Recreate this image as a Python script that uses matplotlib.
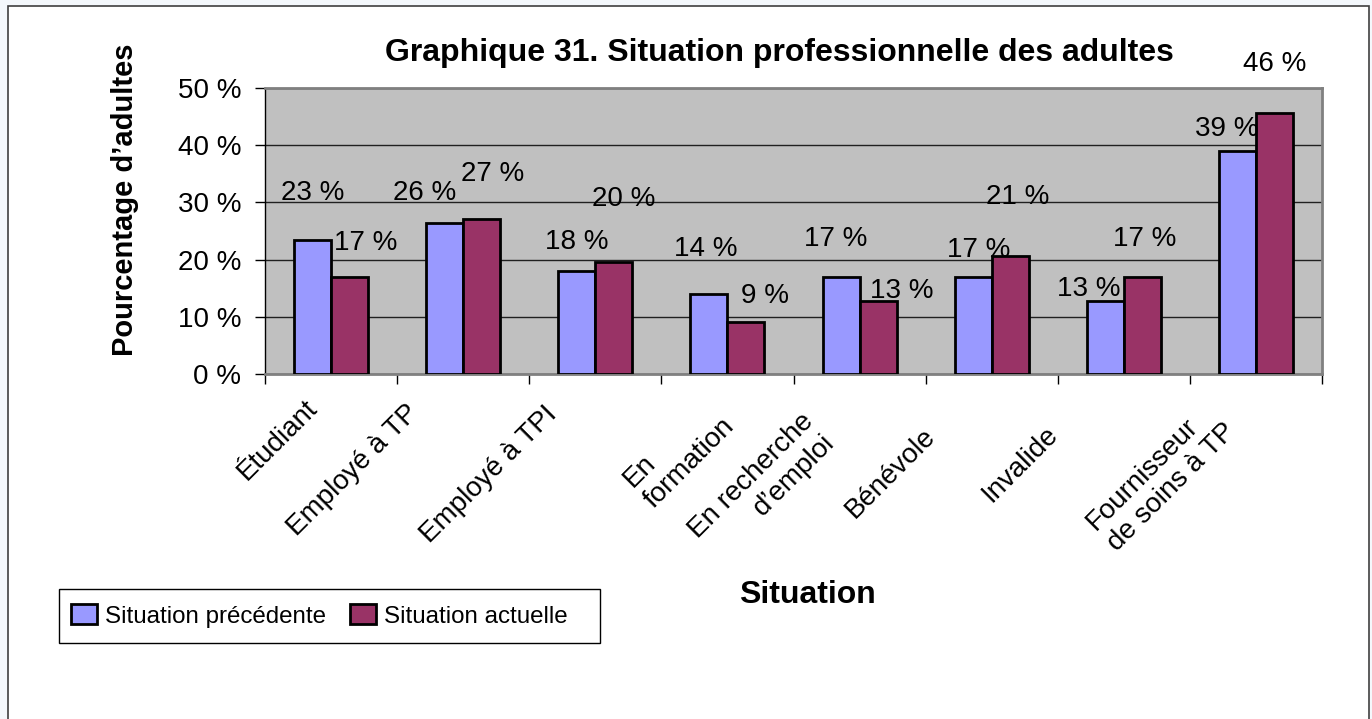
import matplotlib.pyplot as plt
import matplotlib.transforms as mtransforms
from matplotlib.patches import Rectangle, Patch
import numpy as np

plt.rcParams['font.family'] = ['Liberation Sans', 'DejaVu Sans']

# Données
categories = ["Étudiant", "Employé à TP", "Employé à TPI", "En\nformation",
              "En recherche\nd’emploi", "Bénévole", "Invalide",
              "Fournisseur\nde soins à TP"]
previous = [23.4, 26.4, 18.0, 14.0, 16.9, 16.9, 12.8, 39.0]
current = [16.9, 27.1, 19.5, 9.1, 12.8, 20.6, 16.9, 45.6]
y_ticks = [0, 10, 20, 30, 40, 50]

# Décalages des étiquettes (pixels), comme dans l'original d'Excel
prev_off = [(0, -47), (-20, -30), (0, -29), (-3, -45), (-5, -38), (5, -27),
            (-17, -12), (-11, -22)]
cur_off = [(16, -34), (11, -45), (10, -63), (19, -26), (24, -10), (8, -59),
           (2, -38), (0, -49)]
tick_off = [(-27, 21), (-58, 26), (-51, 27), (-27, 18), (-59, 34), (-69, 49),
            (-79, 47), (-55, 23)]
tick_align = ['left', 'left', 'left', 'left', 'right', 'left', 'left', 'left']

W, H = 1372, 719


def fx(px):
    return px / W


def fy(py):
    return 1 - py / H


fig = plt.figure(figsize=(W / 100, H / 100), dpi=100, facecolor='#F4F8FC')
# cadre blanc du graphique
fig.add_artist(Rectangle((fx(8), -0.1), fx(1369) - fx(8), 1.1 - 6 / H,
                         transform=fig.transFigure, facecolor='white',
                         edgecolor='#404040', linewidth=1.2, zorder=0))

ax = fig.add_axes([fx(265), fy(374), (1322 - 265) / W, (374 - 88) / H])
ax.set_facecolor('#C0C0C0')

x = np.arange(len(categories))
w = 0.28
ax.bar(x - w / 2, previous, w, color='#9999FF', edgecolor='black',
       linewidth=2, zorder=3)
ax.bar(x + w / 2, current, w, color='#993366', edgecolor='black',
       linewidth=2, zorder=3)

k = 0.72  # px -> points
for i in range(len(categories)):
    ax.annotate(f"{previous[i]:.0f} %", (x[i] - w / 2, previous[i]),
                xytext=(prev_off[i][0] * k, -prev_off[i][1] * k),
                textcoords='offset points', ha='center', va='center',
                fontsize=20, zorder=5)
    ax.annotate(f"{current[i]:.0f} %", (x[i] + w / 2, current[i]),
                xytext=(cur_off[i][0] * k, -cur_off[i][1] * k),
                textcoords='offset points', ha='center', va='center',
                fontsize=20, zorder=5)

ax.set_xlim(-0.5, len(categories) - 0.5)
ax.set_ylim(0, 50)
ax.set_yticks(y_ticks)
ax.set_yticklabels([f"{t} %" for t in y_ticks])
ax.tick_params(axis='y', length=7.2, width=1, pad=10, labelsize=20,
               direction='out', colors='black')
ax.yaxis.grid(True, color='#202020', linewidth=1)
ax.set_axisbelow(True)

ax.set_xticks(x)
ax.set_xticklabels([])
ax.tick_params(axis='x', which='major', length=0)
ax.set_xticks(np.arange(-0.5, len(categories), 1), minor=True)
ax.tick_params(axis='x', which='minor', length=7.2, width=1, color='black')

for s in ['top', 'right', 'bottom']:
    ax.spines[s].set_color('#808080')
    ax.spines[s].set_linewidth(2)
ax.spines['left'].set_color('black')
ax.spines['left'].set_linewidth(1)

# étiquettes des catégories, inclinées à 45°
for i, lab in enumerate(categories):
    tr = ax.get_xaxis_transform() + mtransforms.ScaledTranslation(
        tick_off[i][0] / 100, -tick_off[i][1] / 100, fig.dpi_scale_trans)
    ax.text(x[i], 0, lab, transform=tr, rotation=45, rotation_mode='anchor',
            ha='right', va='top', multialignment=tick_align[i], fontsize=20)

fig.text(fx(779), fy(61), "Graphique 31. Situation professionnelle des adultes",
         ha='center', va='baseline', fontsize=23, weight='bold')
fig.text(fx(125), fy(200), "Pourcentage d’adultes", rotation=90,
         ha='center', va='center', fontsize=21, weight='bold')
fig.text(fx(807), fy(603), "Situation", ha='center', va='baseline',
         fontsize=23, weight='bold')

# légende : cadre dessiné à part
fig.add_artist(Rectangle((fx(59), fy(643)), fx(600) - fx(59), fy(589) - fy(643),
                         transform=fig.transFigure, facecolor='white',
                         edgecolor='black', linewidth=1, zorder=1))
handles = [Patch(facecolor='#9999FF', edgecolor='black', linewidth=2),
           Patch(facecolor='#993366', edgecolor='black', linewidth=2)]
leg = fig.legend(handles, ["Situation précédente", "Situation actuelle"],
                 loc='center left', bbox_to_anchor=(fx(66), fy(616)), ncol=2,
                 fontsize=17.4, frameon=False, borderaxespad=0,
                 handlelength=1.1, handleheight=0.9, handletextpad=0.3,
                 columnspacing=1.0, borderpad=0.2)
leg.set_zorder(2)

fig.savefig("out.png", dpi=100)
